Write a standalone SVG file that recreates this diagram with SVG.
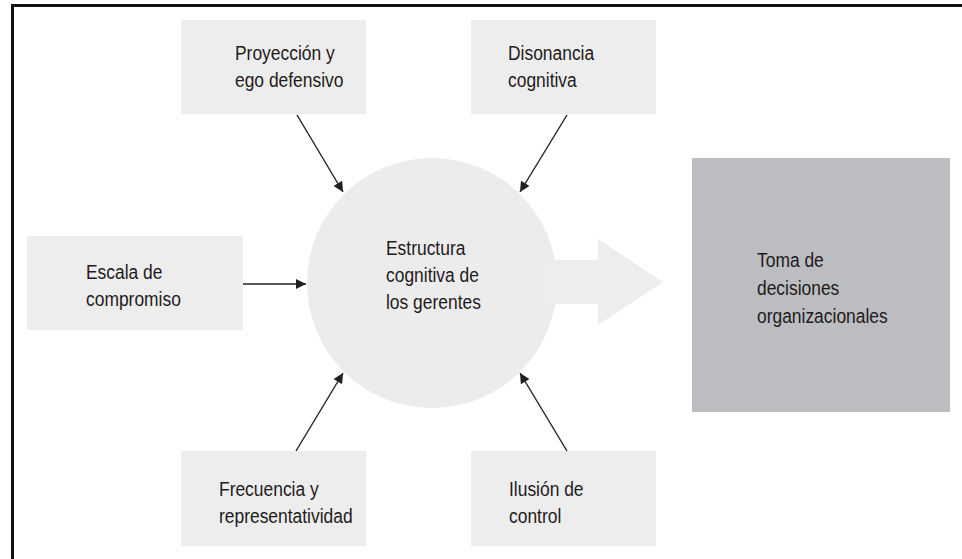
<svg xmlns="http://www.w3.org/2000/svg" width="962" height="559" viewBox="0 0 962 559">
<style>
.box{fill:#ededed}
.t{font-family:"Liberation Sans",Arial,sans-serif;font-size:21px;fill:#1f1b1c}
.c{stroke:#231f20;stroke-width:1.4;fill:none;marker-end:url(#ah)}
</style>
<defs>
<marker id="ah" viewBox="0 0 10 10" refX="10" refY="5" markerWidth="14" markerHeight="10" markerUnits="userSpaceOnUse" orient="auto">
<path d="M0,0 L10,5 L0,10 Z" fill="#231f20"/>
</marker>
</defs>
<rect width="962" height="559" fill="#fff"/>
<path d="M12.5,559 V5.5 H962" fill="none" stroke="#111" stroke-width="3"/>
<g id="frame-content">
<g id="circle">
<circle cx="432" cy="283" r="125" fill="#ececec"/>
<path d="M540,260 H598 V239 L663,282 L598,325 V304 H540 Z" fill="#ededed"/>
<text class="t" transform="translate(386,255) scale(0.83,1)"><tspan x="0" y="0">Estructura</tspan><tspan x="0" y="27">cognitiva de</tspan><tspan x="0" y="54">los gerentes</tspan></text>
</g>
<g id="n-proyeccion">
<rect class="box" x="181" y="20" width="185" height="94"/>
<text class="t" transform="translate(235,60) scale(0.83,1)"><tspan x="0" y="0">Proyección y</tspan><tspan x="0" y="27">ego defensivo</tspan></text>
</g>
<g id="n-disonancia">
<rect class="box" x="471" y="20" width="185" height="94"/>
<text class="t" transform="translate(508,60) scale(0.83,1)"><tspan x="0" y="0">Disonancia</tspan><tspan x="0" y="27">cognitiva</tspan></text>
</g>
<g id="n-escala">
<rect class="box" x="27" y="236" width="216" height="94"/>
<text class="t" transform="translate(86,279) scale(0.83,1)"><tspan x="0" y="0">Escala de</tspan><tspan x="0" y="27">compromiso</tspan></text>
</g>
<g id="n-frecuencia">
<rect class="box" x="181" y="451" width="185" height="95"/>
<text class="t" transform="translate(219,496) scale(0.83,1)"><tspan x="0" y="0">Frecuencia y</tspan><tspan x="0" y="27">representatividad</tspan></text>
</g>
<g id="n-ilusion">
<rect class="box" x="471" y="451" width="185" height="95"/>
<text class="t" transform="translate(509,496) scale(0.83,1)"><tspan x="0" y="0">Ilusión de</tspan><tspan x="0" y="27">control</tspan></text>
</g>
<g id="n-toma">
<rect x="692" y="158" width="258" height="254" fill="#bcbdc0"/>
<text class="t" transform="translate(757,267) scale(0.83,1)"><tspan x="0" y="0">Toma de</tspan><tspan x="0" y="28">decisiones</tspan><tspan x="0" y="56">organizacionales</tspan></text>
</g>
</g>
<g id="connectors">
<line class="c" x1="297" y1="115" x2="343" y2="192"/>
<line class="c" x1="567" y1="115" x2="520" y2="192"/>
<line class="c" x1="243" y1="284" x2="306" y2="284"/>
<line class="c" x1="296" y1="451" x2="343" y2="373"/>
<line class="c" x1="567" y1="451" x2="520" y2="373"/>
</g>
</svg>
